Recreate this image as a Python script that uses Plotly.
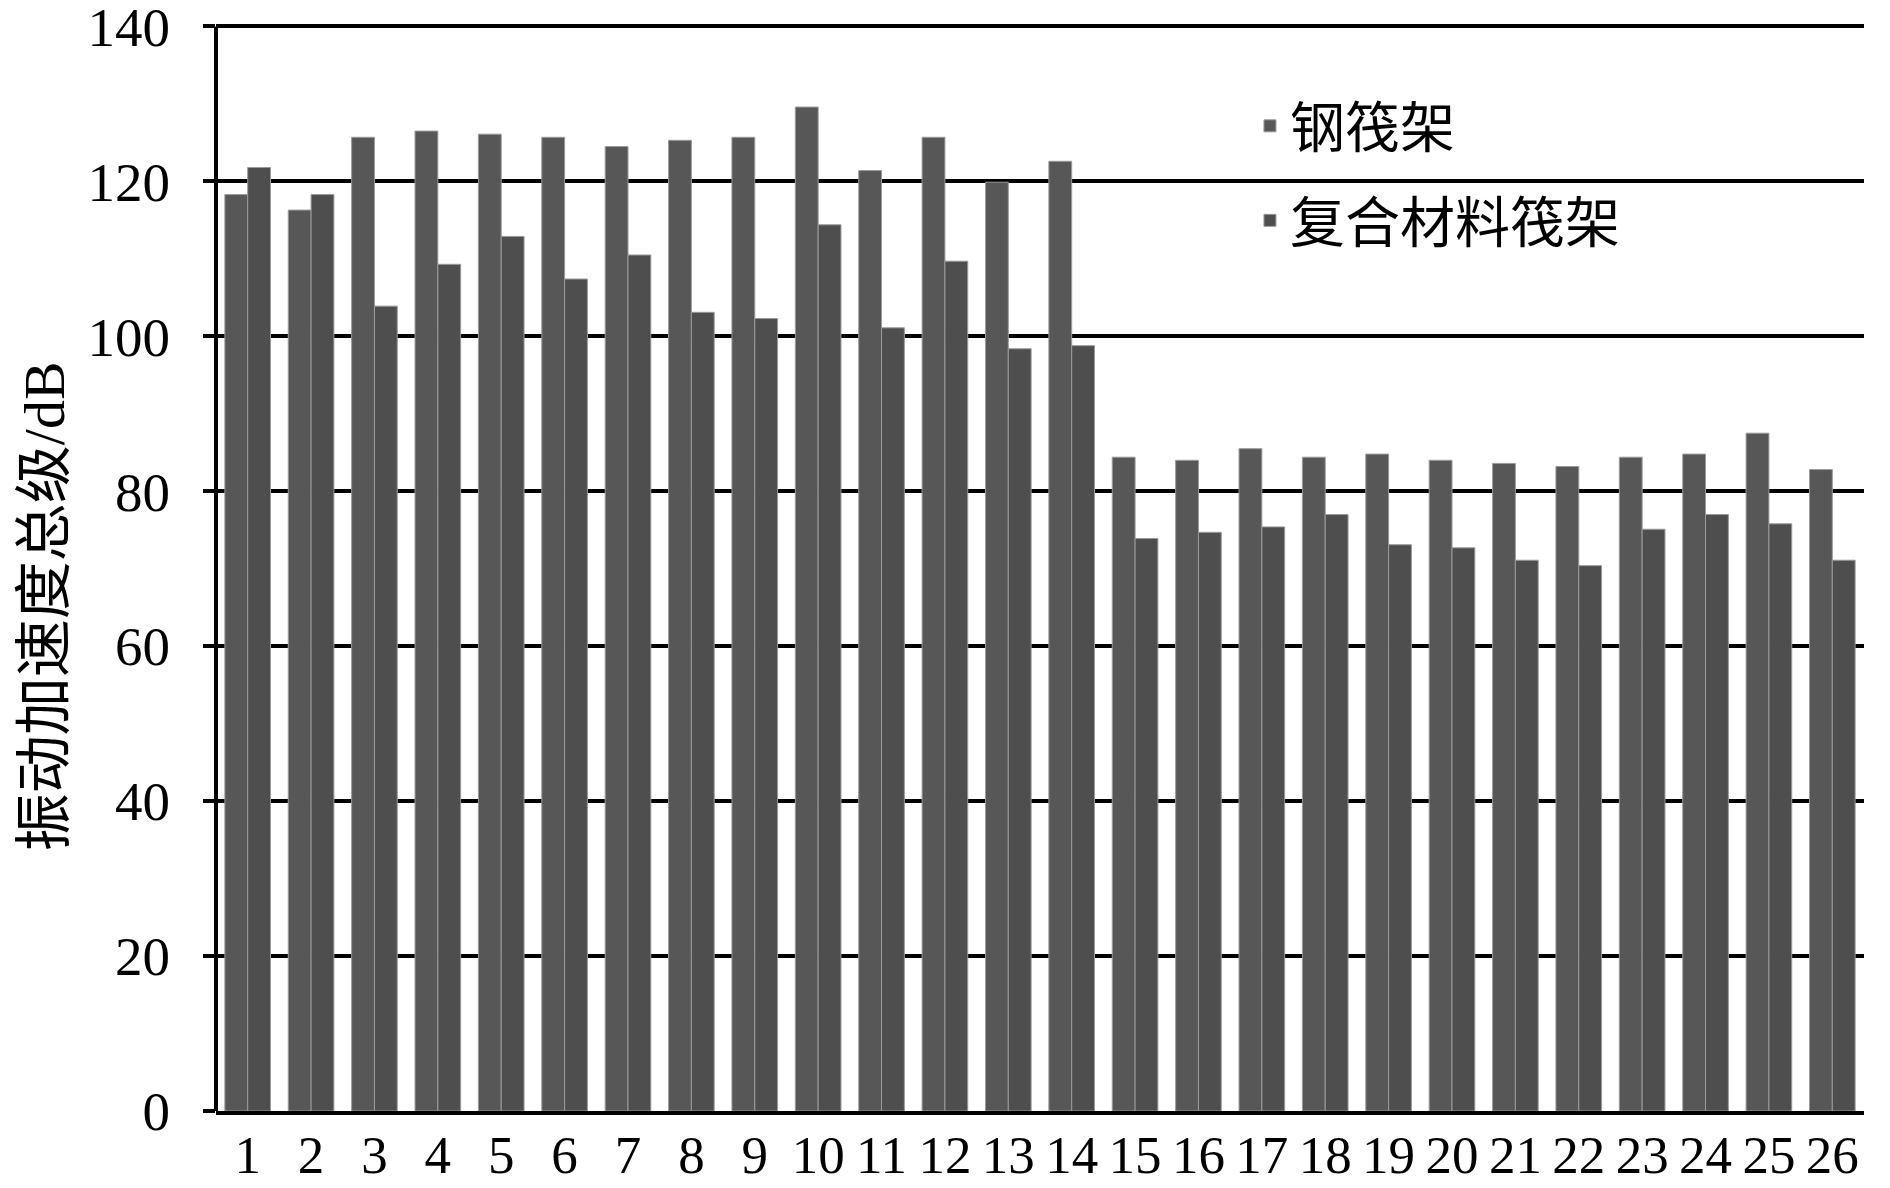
import plotly.graph_objects as go

categories = [str(i) for i in range(1, 27)]
steel_raft = [118.3, 116.3, 125.7, 126.5, 126.1, 125.7, 124.5, 125.3, 125.7, 129.6,
              121.4, 125.7, 119.9, 122.6, 84.4, 84.0, 85.5, 84.4, 84.8, 84.0,
              83.6, 83.2, 84.4, 84.8, 87.5, 82.8]
composite_raft = [121.8, 118.3, 103.9, 109.3, 112.9, 107.4, 110.5, 103.1, 102.3, 114.4,
                  101.1, 109.7, 98.4, 98.8, 73.9, 74.7, 75.4, 77.0, 73.1, 72.7,
                  71.1, 70.4, 75.1, 77.0, 75.8, 71.1]
series_names = ["钢筏架", "复合材料筏架"]
y_ticks = [0, 20, 40, 60, 80, 100, 120, 140]
y_title = "振动加速度总级/dB"

FONT = "Liberation Serif, Times New Roman, Noto Sans CJK SC, serif"

fig = go.Figure()
fig.add_trace(go.Bar(x=categories, y=steel_raft, name=series_names[0],
                     legendgroup="a",
                     marker=dict(color="#575757", line=dict(color="#9a9a9a", width=1))))
fig.add_trace(go.Bar(x=categories, y=composite_raft, name=series_names[1],
                     legendgroup="b",
                     marker=dict(color="#4e4e4e", line=dict(color="#9a9a9a", width=1))))

fig.update_layout(
    width=1882, height=1180,
    margin=dict(l=208, r=26, t=2.5, b=77, autoexpand=False),
    paper_bgcolor="white", plot_bgcolor="white",
    barmode="group", bargap=0.28, bargroupgap=0,
    font=dict(family=FONT, size=56, color="black"),
    showlegend=True,
    legend=dict(x=0.6274, y=0.934, xanchor="left", yanchor="top",
                bgcolor="rgba(0,0,0,0)", font=dict(size=55, family=FONT),
                traceorder="grouped", tracegroupgap=20),
    xaxis=dict(type="category", tickmode="linear", dtick=1, tickangle=0,
               showgrid=False, showline=True, linecolor="black",
               linewidth=4, ticks="", tickfont=dict(size=53),
               ticklabelstandoff=-6, automargin=False),
    yaxis=dict(range=[0, 142], tickvals=y_ticks, showgrid=True, gridcolor="black",
               gridwidth=4, showline=False, zeroline=False,
               ticks="outside", ticklen=12, tickwidth=4, tickcolor="black",
               tickfont=dict(size=55), ticklabelstandoff=22,
               ticklabeloverflow="allow", automargin=False),
    shapes=[dict(type="line", xref="paper", yref="y", x0=0, x1=0, y0=0, y1=y_ticks[-1],
                 line=dict(color="black", width=4), layer="above")],
    annotations=[dict(text=y_title, textangle=-90, x=-0.1044, y=0.4589,
                      xref="paper", yref="paper", xanchor="center", yanchor="middle",
                      showarrow=False, font=dict(size=58, family=FONT))],
)

fig.write_html("out.html")
